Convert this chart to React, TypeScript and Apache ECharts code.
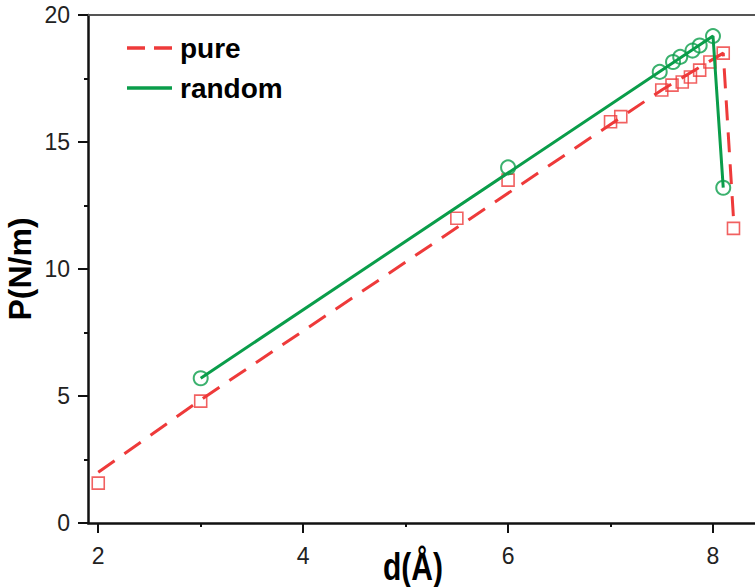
import React, { useEffect, useRef } from "react";
import * as echarts from "echarts";

// pure: measured points (squares) and its dashed guide line
const pureX = [2, 3, 5.5, 6, 7, 7.1, 7.5, 7.6, 7.7, 7.78, 7.87, 7.97, 8.1, 8.2];
const pureY = [1.57, 4.8, 12.0, 13.5, 15.8, 16.0, 17.05, 17.24, 17.36, 17.56, 17.83, 18.15, 18.5, 11.6];
const pureLineX = [2, 3, 7.5, 8.1, 8.2];
const pureLineY = [2.0, 4.85, 17.05, 18.5, 12.0];

// random: measured points (circles) and its solid line
const randomX = [3, 6, 7.48, 7.61, 7.68, 7.8, 7.87, 8.0, 8.1];
const randomY = [5.7, 14.0, 17.76, 18.15, 18.35, 18.6, 18.8, 19.17, 13.2];
const randomLineX = [3, 8.0, 8.1];
const randomLineY = [5.7, 19.17, 13.2];

const xMajorTicks = [2, 4, 6, 8];
const xMinorTicks = [3, 5, 7];

const RED = "#ee3a3a";
const GREEN = "#0a9d4a";
const FONT = "'Liberation Sans', Arial, Helvetica, sans-serif";

const zip = (xs: number[], ys: number[]) => xs.map((x, i) => [x, ys[i]]);

export default function App() {
  const ref = useRef<HTMLDivElement>(null);
  useEffect(() => {
    if (!ref.current) return;
    const chart = echarts.init(ref.current, null, { renderer: "svg" });
    const xMin = 1.9;
    const xMax = 8.41;
    chart.setOption({
      animation: false,
      backgroundColor: "#ffffff",
      grid: { left: 88, right: 0, top: 15, bottom: 64 },
      legend: {
        orient: "vertical",
        left: 127,
        top: 33,
        padding: 0,
        itemWidth: 45,
        itemHeight: 14,
        itemGap: 10,
        textStyle: {
          fontSize: 28,
          fontWeight: "bold",
          color: "#000",
          fontFamily: FONT,
          lineHeight: 30,
          padding: [0, 0, 0, 3],
        },
        data: [
          { name: "pure", icon: "path://M0,0H18V3.5H0Z M27,0H45V3.5H27Z" },
          { name: "random", icon: "path://M0,0H45V3.5H0Z" },
        ],
      },
      xAxis: [
        {
          type: "value",
          min: xMin,
          max: xMax,
          position: "bottom",
          splitLine: { show: false },
          axisLine: { show: true, onZero: false, lineStyle: { color: "#111", width: 2.5 } },
          axisTick: { show: true, customValues: xMajorTicks, length: 10, lineStyle: { color: "#111", width: 2 } },
          axisLabel: { customValues: xMajorTicks, fontSize: 23, color: "#222", fontFamily: FONT, margin: 21 },
        },
        {
          type: "value",
          min: xMin,
          max: xMax,
          position: "bottom",
          splitLine: { show: false },
          axisLine: { show: false, onZero: false },
          axisTick: { show: true, customValues: xMinorTicks, length: 4, lineStyle: { color: "#111", width: 2 } },
          axisLabel: { show: false },
        },
        {
          type: "value",
          min: xMin,
          max: xMax,
          position: "top",
          splitLine: { show: false },
          axisLine: { show: true, onZero: false, lineStyle: { color: "#555", width: 2 } },
          axisTick: { show: false },
          axisLabel: { show: false },
        },
      ],
      yAxis: {
        type: "value",
        min: 0,
        max: 20,
        interval: 5,
        splitLine: { show: false },
        axisLine: { show: true, onZero: false, lineStyle: { color: "#111", width: 2.5 } },
        axisTick: { show: true, length: 10, lineStyle: { color: "#111", width: 2 } },
        minorTick: { show: true, splitNumber: 2, length: 4, lineStyle: { color: "#111", width: 2 } },
        axisLabel: { fontSize: 23, color: "#222", fontFamily: FONT, margin: 18 },
      },
      series: [
        {
          name: "pure",
          type: "line",
          xAxisIndex: 0,
          data: zip(pureLineX, pureLineY),
          symbol: "none",
          lineStyle: { color: RED, width: 3, type: [20, 12] },
          itemStyle: { color: RED },
          z: 2,
        },
        {
          name: "pure data",
          type: "scatter",
          xAxisIndex: 0,
          data: zip(pureX, pureY),
          symbol: "rect",
          symbolSize: 12,
          itemStyle: { color: "rgba(255,255,255,0)", borderColor: RED, borderWidth: 1.6 },
          z: 3,
        },
        {
          name: "random",
          type: "line",
          xAxisIndex: 0,
          data: zip(randomLineX, randomLineY),
          symbol: "none",
          lineStyle: { color: GREEN, width: 3 },
          itemStyle: { color: GREEN },
          z: 4,
        },
        {
          name: "random data",
          type: "scatter",
          xAxisIndex: 0,
          data: zip(randomX, randomY),
          symbol: "circle",
          symbolSize: 14,
          itemStyle: { color: "rgba(255,255,255,0)", borderColor: GREEN, borderWidth: 2 },
          z: 5,
        },
      ],
      graphic: [
        {
          type: "text",
          x: 20,
          y: 269,
          rotation: Math.PI / 2,
          style: {
            text: "P(N/m)",
            font: `bold 32px ${FONT}`,
            fill: "#000",
            align: "center",
            verticalAlign: "middle",
          },
        },
        {
          type: "text",
          x: 413,
          y: 567,
          scaleY: 1.3,
          style: {
            text: "d(Å)",
            font: `bold 30px ${FONT}`,
            fill: "#000",
            align: "center",
            verticalAlign: "middle",
          },
        },
      ],
    });
    return () => chart.dispose();
  }, []);
  return (
    <div
      ref={ref}
      style={{ position: "fixed", left: 0, top: 0, width: 755, height: 587 }}
    />
  );
}
